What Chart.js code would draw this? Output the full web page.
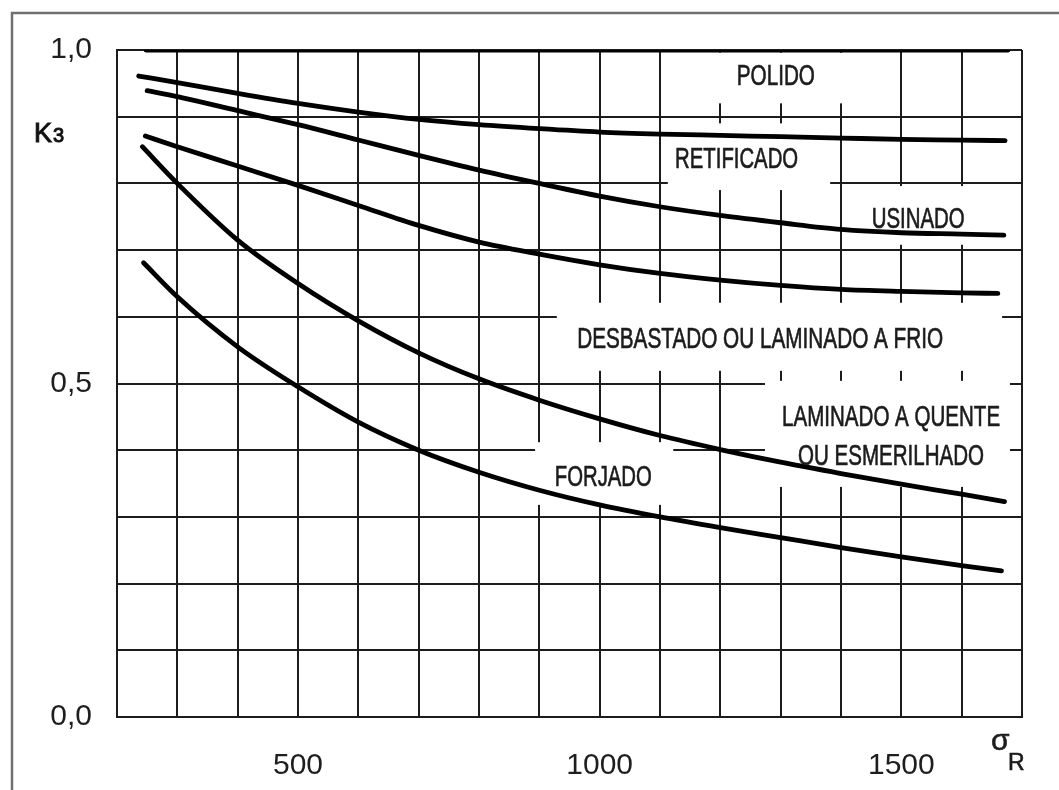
<!DOCTYPE html>
<html>
<head>
<meta charset="utf-8">
<script src="https://cdn.jsdelivr.net/npm/chart.js@4.4.0/dist/chart.umd.min.js"></script>
<style>
html, body { margin: 0; padding: 0; background: #fff; }
#wrap { width: 1059px; height: 790px; }
</style>
</head>
<body>
<div id="wrap"><canvas id="k3Chart" width="1059" height="790"></canvas></div>
<script>
// tick labels shown on the axes
const sigmaTicks = [500, 1000, 1500];
const kTicks = [0.0, 0.5, 1.0];

// curves: sigma_R -> K3
const polidoSigma = [248, 1677];
const polidoK = [1.0, 1.0];

const retificadoSigma = [236, 300, 400, 500, 600, 700, 800, 900, 1000, 1100, 1200, 1300, 1400, 1500, 1600, 1672];
const retificadoK = [0.961, 0.951, 0.935, 0.92, 0.907, 0.896, 0.888, 0.882, 0.877, 0.874, 0.872, 0.87, 0.868, 0.866, 0.865, 0.864];

const usinadoSigma = [250, 300, 400, 500, 600, 700, 800, 900, 1000, 1100, 1200, 1300, 1400, 1500, 1600, 1670];
const usinadoK = [0.939, 0.93, 0.909, 0.888, 0.865, 0.842, 0.82, 0.8, 0.781, 0.765, 0.752, 0.741, 0.731, 0.726, 0.724, 0.7225];

const desbastadoSigma = [247, 300, 400, 500, 600, 700, 800, 900, 1000, 1100, 1200, 1300, 1400, 1500, 1600, 1660];
const desbastadoK = [0.871, 0.855, 0.826, 0.797, 0.767, 0.737, 0.712, 0.694, 0.678, 0.665, 0.655, 0.647, 0.641, 0.638, 0.636, 0.635];

const laminadoSigma = [242, 300, 400, 500, 600, 700, 800, 900, 1000, 1100, 1200, 1300, 1400, 1500, 1600, 1671];
const laminadoK = [0.855, 0.8, 0.715, 0.65, 0.594, 0.546, 0.507, 0.475, 0.447, 0.422, 0.401, 0.382, 0.365, 0.349, 0.334, 0.323];

const forjadoSigma = [244, 300, 400, 500, 600, 700, 800, 900, 1000, 1100, 1200, 1300, 1400, 1500, 1600, 1666];
const forjadoK = [0.681, 0.63, 0.555, 0.495, 0.442, 0.4, 0.367, 0.34, 0.318, 0.3, 0.284, 0.269, 0.254, 0.24, 0.227, 0.219];

// curve names, placed in chart units
const curveLabels = [
  { text: 'POLIDO', s: 1292, k: 0.9475, w: 78 },
  { text: 'RETIFICADO', s: 1227, k: 0.823, w: 123 },
  { text: 'USINADO', s: 1528, k: 0.733, w: 93 },
  { text: 'DESBASTADO OU LAMINADO A FRIO', s: 1266, k: 0.553, w: 366 },
  { text: 'LAMINADO A QUENTE', s: 1483, k: 0.436, w: 218 },
  { text: 'OU ESMERILHADO', s: 1483, k: 0.378, w: 186 },
  { text: 'FORJADO', s: 1006, k: 0.346, w: 97 }
];

// white patches behind the names (they hide the grid there)
const labelBoxes = [
  [1108, 1415, 0.92, 0.996],
  [1113, 1382, 0.79, 0.89],
  [1418, 1639, 0.708, 0.796],
  [929, 1667, 0.519, 0.621],
  [1274, 1680, 0.345, 0.504],
  [893, 1122, 0.318, 0.412]
];

const FONT = '"Liberation Sans", Arial, sans-serif';
const INK = '#1c1c1c';

const pts = (xs, ys) => xs.map((x, i) => ({ x: x, y: ys[i] }));

const curves = [
  ['POLIDO', polidoSigma, polidoK],
  ['RETIFICADO', retificadoSigma, retificadoK],
  ['USINADO', usinadoSigma, usinadoK],
  ['DESBASTADO OU LAMINADO A FRIO', desbastadoSigma, desbastadoK],
  ['LAMINADO A QUENTE OU ESMERILHADO', laminadoSigma, laminadoK],
  ['FORJADO', forjadoSigma, forjadoK]
];

const framePlugin = {
  id: 'frame',
  beforeDraw(chart) {
    const ctx = chart.ctx;
    ctx.save();
    ctx.fillStyle = '#fff';
    ctx.fillRect(0, 0, chart.width, chart.height);
    ctx.strokeStyle = '#707070';
    ctx.lineWidth = 2.5;
    ctx.beginPath();
    ctx.moveTo(12, chart.height + 5);
    ctx.lineTo(12, 13);
    ctx.lineTo(chart.width + 5, 13);
    ctx.stroke();
    ctx.restore();
  }
};

const boxPlugin = {
  id: 'boxes',
  beforeDatasetsDraw(chart) {
    const ctx = chart.ctx, xs = chart.scales.x, ys = chart.scales.y;
    ctx.save();
    ctx.fillStyle = '#fff';
    labelBoxes.forEach(b => {
      const x0 = xs.getPixelForValue(b[0]), x1 = xs.getPixelForValue(b[1]);
      const y0 = ys.getPixelForValue(b[3]), y1 = ys.getPixelForValue(b[2]);
      ctx.fillRect(x0, y0, x1 - x0, y1 - y0);
    });
    ctx.restore();
  }
};

// fill + thin stroke so the lettering is as heavy as in the scan
function heavyText(ctx, txt, x, y, w) {
  ctx.fillText(txt, x, y, w);
  ctx.strokeText(txt, x, y, w);
}

const textPlugin = {
  id: 'texts',
  afterDraw(chart) {
    const ctx = chart.ctx, xs = chart.scales.x, ys = chart.scales.y;
    ctx.save();
    ctx.fillStyle = INK;
    ctx.strokeStyle = INK;
    ctx.lineWidth = 0.7;
    ctx.textAlign = 'center';
    ctx.textBaseline = 'alphabetic';
    ctx.font = '30px ' + FONT;
    curveLabels.forEach(l => {
      heavyText(ctx, l.text, xs.getPixelForValue(l.s), ys.getPixelForValue(l.k), l.w);
    });
    // axis names
    const a = chart.chartArea;
    ctx.textAlign = 'left';
    ctx.fillStyle = '#111';
    ctx.strokeStyle = '#111';
    ctx.lineWidth = 1;
    ctx.font = '27px ' + FONT;
    heavyText(ctx, 'K', a.left - 83, 142);
    ctx.font = '20px ' + FONT;
    heavyText(ctx, '3', a.left - 64, 142);
    ctx.fillStyle = INK;
    ctx.strokeStyle = INK;
    ctx.lineWidth = 0.6;
    ctx.font = '30px ' + FONT;
    heavyText(ctx, 'σ', a.right - 31, a.bottom + 33);
    ctx.font = '23px ' + FONT;
    heavyText(ctx, 'R', a.right - 14, a.bottom + 53);
    ctx.restore();
  }
};

new Chart(document.getElementById('k3Chart'), {
  type: 'line',
  data: {
    datasets: curves.map(c => ({
      label: c[0],
      data: pts(c[1], c[2]),
      borderColor: '#000',
      borderWidth: 4.8,
      borderCapStyle: 'round',
      pointRadius: 0,
      fill: false,
      cubicInterpolationMode: 'monotone'
    }))
  },
  options: {
    responsive: false,
    animation: false,
    layout: { padding: { top: 50, right: 37, left: 0, bottom: 0 } },
    plugins: {
      legend: { display: false },
      tooltip: { enabled: false }
    },
    scales: {
      x: {
        type: 'linear',
        min: 200,
        max: 1700,
        afterFit(s) { s.height = 73; },
        grid: { color: INK, lineWidth: 2, drawTicks: false },
        border: { color: INK, width: 2 },
        ticks: {
          stepSize: 100,
          autoSkip: false,
          maxRotation: 0,
          padding: 31,
          color: '#1e1e1e',
          font: { family: FONT, size: 30 },
          callback: v => sigmaTicks.includes(v) ? String(v) : ''
        }
      },
      y: {
        type: 'linear',
        min: 0,
        max: 1,
        afterFit(s) { s.width = 117; },
        grid: { color: INK, lineWidth: 2, drawTicks: false },
        border: { color: INK, width: 2 },
        ticks: {
          stepSize: 0.1,
          padding: 25,
          color: '#1e1e1e',
          font: { family: FONT, size: 30 },
          callback: v => kTicks.some(t => Math.abs(t - v) < 1e-6) ? v.toFixed(1).replace('.', ',') : ''
        }
      }
    }
  },
  plugins: [framePlugin, boxPlugin, textPlugin]
});
</script>
</body>
</html>
